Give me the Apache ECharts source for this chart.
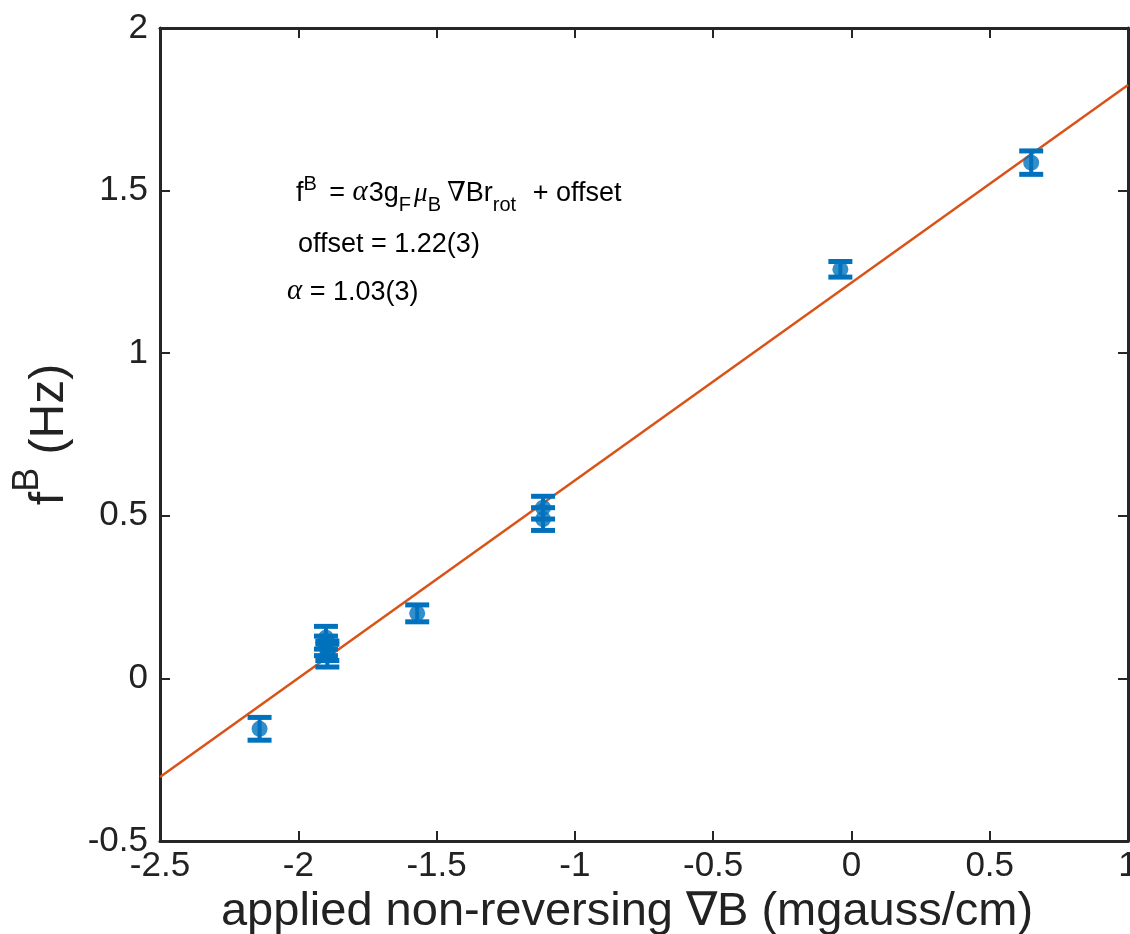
<!DOCTYPE html>
<html>
<head>
<meta charset="utf-8">
<script src="https://cdn.jsdelivr.net/npm/echarts@6/dist/echarts.min.js"></script>
<style>
html,body{margin:0;padding:0;background:#fff;overflow:hidden;}
#chart{width:1130px;height:934px;}
</style>
</head>
<body>
<div id="chart"></div>
<script>
// Data
const xVals   = [-2.14, -1.90, -1.90, -1.895, -1.895, -1.57, -1.115, -1.115, -0.04, 0.65];
const yVals   = [-0.155, 0.125, 0.10, 0.085, 0.07, 0.20, 0.525, 0.49, 1.258, 1.586];
const errVals = [0.035, 0.035, 0.03, 0.03, 0.035, 0.026, 0.035, 0.035, 0.024, 0.036];
const fitX = [-2.5, 1];
const fitY = [-0.303, 1.825];
const xTicks = [-2.5, -2, -1.5, -1, -0.5, 0, 0.5, 1];
const yTicks = [-0.5, 0, 0.5, 1, 1.5, 2];

const BLUE = '#0072BD', ORANGE = '#D95319', AX = '#262626';
const FONT = '"Liberation Sans", Arial, Helvetica, sans-serif';
const SERIF = '"Liberation Serif", "DejaVu Serif", serif';

const chart = echarts.init(document.getElementById('chart'), null, {renderer: 'canvas', width: 1130, height: 934});

const pts = xVals.map((x, i) => [x, yVals[i], errVals[i]]);
const fitData = fitX.map((x, i) => [x, fitY[i]]);

// annotation text builder (measured pieces)
const cvs = document.createElement('canvas');
const ctx = cvs.getContext('2d');
function measure(text, size, family, style) {
  ctx.font = (style || 'normal') + ' ' + size + 'px ' + family;
  return ctx.measureText(text).width;
}
function buildLine(x0, bottom, pieces) {
  const els = [];
  let x = x0;
  pieces.forEach(p => {
    const size = p.size, fam = p.family || FONT, st = p.style || 'normal';
    els.push({
      type: 'text',
      x: x, y: bottom + (p.dy || 0),
      style: {text: p.t, fontSize: size, fontFamily: fam, fontStyle: st, fill: '#000',
              verticalAlign: 'bottom', align: 'left'},
      silent: true, z: 10
    });
    x += measure(p.t, size, fam, st) + (p.gap || 0);
  });
  return els;
}
const MS = 27, SS = 20;
const annot = [].concat(
  buildLine(296, 207, [
    {t: 'f', size: MS}, {t: 'B', size: SS, dy: -13, gap: 5},
    {t: ' = ', size: MS}, {t: 'α', size: MS + 2, family: SERIF, style: 'italic', gap: 1},
    {t: '3g', size: MS}, {t: 'F', size: SS, dy: 8, gap: 3},
    {t: 'μ', size: MS, family: SERIF, style: 'italic'}, {t: 'B', size: SS, dy: 8, gap: 6},
    {t: '∇', size: MS, family: SERIF}, {t: 'Br', size: MS}, {t: 'rot', size: SS, dy: 8, gap: 9},
    {t: ' + offset', size: MS}
  ]),
  buildLine(298, 258, [{t: 'offset = 1.22(3)', size: MS}]),
  buildLine(287, 306, [{t: 'α', size: MS + 2, family: SERIF, style: 'italic'}, {t: ' = 1.03(3)', size: MS}])
);

const gridL = 160, gridT = 28, gridR = 2, gridB = 93;

const option = {
  animation: false,
  backgroundColor: '#fff',
  grid: {left: gridL, top: gridT, right: gridR, bottom: gridB, containLabel: false, outerBoundsMode: 'none'},
  xAxis: [{
    type: 'value', min: -2.5, max: 1, interval: 0.5, position: 'bottom',
    axisLine: {show: true, onZero: false, lineStyle: {color: AX, width: 3}},
    axisTick: {show: true, inside: true, length: 10, lineStyle: {color: AX, width: 2}},
    axisLabel: {color: '#222', fontSize: 35, fontFamily: FONT, margin: 8, formatter: v => String(v)},
    splitLine: {show: false},
    name: 'applied non-reversing ∇B (mgauss/cm)', nameLocation: 'middle', nameGap: 44,
    nameTextStyle: {fontSize: 47, fontFamily: FONT, color: '#222', padding: [0, 34, 0, 0]}
  }, {
    type: 'value', min: -2.5, max: 1, interval: 0.5, position: 'top',
    axisLine: {show: true, onZero: false, lineStyle: {color: AX, width: 3}},
    axisTick: {show: true, inside: true, length: 10, lineStyle: {color: AX, width: 2}},
    axisLabel: {show: false}, splitLine: {show: false}
  }],
  yAxis: [{
    type: 'value', min: -0.5, max: 2, interval: 0.5, position: 'left',
    axisLine: {show: true, onZero: false, lineStyle: {color: AX, width: 3}},
    axisTick: {show: true, inside: true, length: 10, lineStyle: {color: AX, width: 2}},
    axisLabel: {color: '#222', fontSize: 35, fontFamily: FONT, margin: 12, formatter: v => String(v)},
    splitLine: {show: false},
    name: '{m|f}{s|B}{m| (Hz)}', nameLocation: 'middle', nameGap: 86, nameRotate: 90,
    nameTextStyle: {
      fontSize: 48, fontFamily: FONT, color: '#222',
      rich: {
        m: {fontSize: 48, fontFamily: FONT, color: '#222', verticalAlign: 'bottom', lineHeight: 64},
        s: {fontSize: 36, fontFamily: FONT, color: '#222', verticalAlign: 'top', lineHeight: 64}
      }
    }
  }, {
    type: 'value', min: -0.5, max: 2, interval: 0.5, position: 'right',
    axisLine: {show: true, onZero: false, lineStyle: {color: AX, width: 3}},
    axisTick: {show: true, inside: true, length: 10, lineStyle: {color: AX, width: 2}},
    axisLabel: {show: false}, splitLine: {show: false}
  }],
  series: [
    {
      type: 'line', data: fitData, showSymbol: false, symbol: 'none',
      lineStyle: {color: ORANGE, width: 2.5}, z: 3, silent: true
    },
    {
      type: 'custom', data: pts, z: 4, silent: true,
      renderItem: function (params, api) {
        const x = api.value(0), y = api.value(1), e = api.value(2);
        const top = api.coord([x, y + e]);
        const bot = api.coord([x, y - e]);
        const hw = 12;
        return {
          type: 'group',
          children: [
            {type: 'line', shape: {x1: top[0], y1: top[1], x2: bot[0], y2: bot[1]}, style: {stroke: BLUE, lineWidth: 4}},
            {type: 'line', shape: {x1: top[0] - hw, y1: top[1], x2: top[0] + hw, y2: top[1]}, style: {stroke: BLUE, lineWidth: 5}},
            {type: 'line', shape: {x1: bot[0] - hw, y1: bot[1], x2: bot[0] + hw, y2: bot[1]}, style: {stroke: BLUE, lineWidth: 5}}
          ]
        };
      }
    },
    {
      type: 'scatter', data: pts.map(p => [p[0], p[1]]), symbol: 'circle', symbolSize: 16,
      itemStyle: {color: BLUE}, z: 5, silent: true
    }
  ],
  graphic: annot
};
chart.setOption(option);
</script>
</body>
</html>
